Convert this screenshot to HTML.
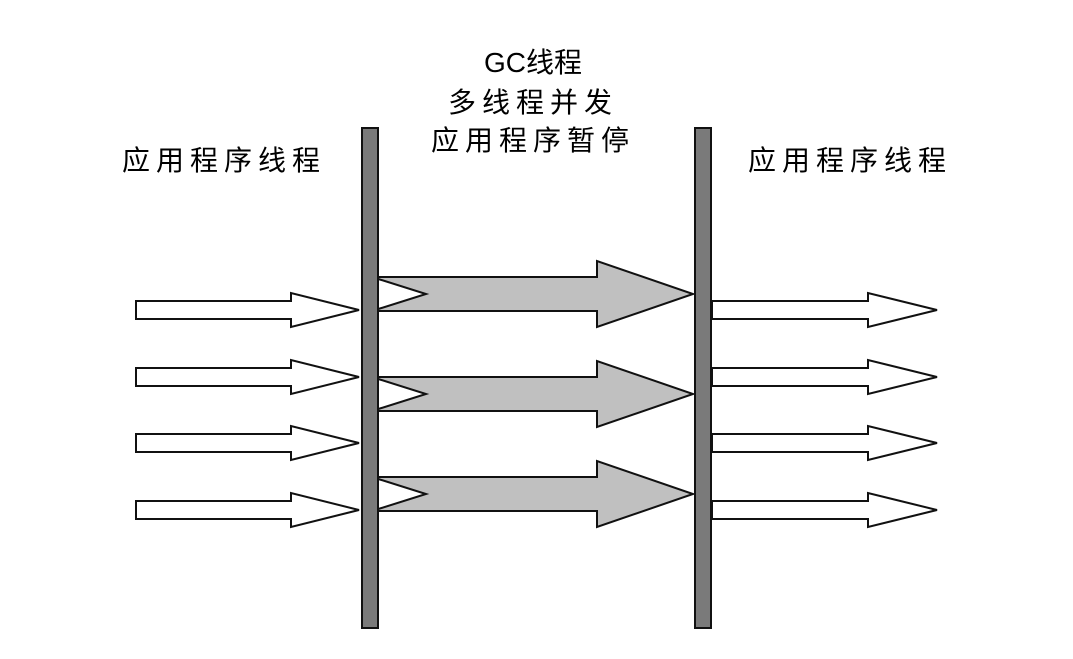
<!DOCTYPE html>
<html><head><meta charset="utf-8"><style>
html,body{margin:0;padding:0;background:#fff;}
svg text{font-family:"Liberation Sans","Noto Sans CJK SC","WenQuanYi Zen Hei",sans-serif;font-size:28px;fill:#000;}
</style></head><body>
<svg width="1073" height="654" viewBox="0 0 1073 654" xmlns="http://www.w3.org/2000/svg">
<rect width="1073" height="654" fill="#fff"/>
<text x="122" y="170" letter-spacing="6">应用程序线程</text>
<text x="748" y="170" letter-spacing="6">应用程序线程</text>
<text x="533" y="72" text-anchor="middle">GC线程</text>
<text x="533" y="112" text-anchor="middle" letter-spacing="6">多线程并发</text>
<text x="533" y="150" text-anchor="middle" letter-spacing="6">应用程序暂停</text>
<g fill="#fff" stroke="#111" stroke-width="2" stroke-linejoin="miter">
<polygon points="136,301 291,301 291,293 359,310 291,327 291,319 136,319"/>
<polygon points="136,368 291,368 291,360 359,377 291,394 291,386 136,386"/>
<polygon points="136,434 291,434 291,426 359,443 291,460 291,452 136,452"/>
<polygon points="136,501 291,501 291,493 359,510 291,527 291,519 136,519"/>
<polygon points="712,301 868,301 868,293 937,310 868,327 868,319 712,319"/>
<polygon points="712,368 868,368 868,360 937,377 868,394 868,386 712,386"/>
<polygon points="712,434 868,434 868,426 937,443 868,460 868,452 712,452"/>
<polygon points="712,501 868,501 868,493 937,510 868,527 868,519 712,519"/>
</g>
<g fill="#c0c0c0" stroke="#111" stroke-width="2">
<polygon points="372,277 597,277 597,261 693,294 597,327 597,311 372,311 426,294"/>
<polygon points="372,377 597,377 597,361 693,394 597,427 597,411 372,411 426,394"/>
<polygon points="372,477 597,477 597,461 693,494 597,527 597,511 372,511 426,494"/>
</g>
<rect x="362" y="128" width="16" height="500" fill="#7a7a7a" stroke="#111" stroke-width="2"/>
<rect x="695" y="128" width="16" height="500" fill="#7a7a7a" stroke="#111" stroke-width="2"/>
</svg>
</body></html>
